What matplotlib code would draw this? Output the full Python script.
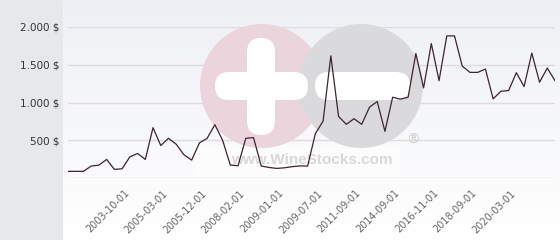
import numpy as np
import matplotlib
matplotlib.use("Agg")
import matplotlib.pyplot as plt
from matplotlib import transforms
from matplotlib.patches import Circle, FancyBboxPatch, Rectangle

prices = [88, 88, 88, 158, 171, 246, 114, 122, 280, 325,
          246, 667, 430, 526, 447, 307, 237, 465, 526, 706,
          500, 171, 162, 526, 535, 158, 140, 127, 135, 150,
          160, 158, 588, 754, 1618, 816, 711, 785, 711, 938,
          1013, 618, 1070, 1044, 1070, 1649, 1193, 1781, 1289, 1882,
          1882, 1482, 1399, 1399, 1443, 1048, 1149, 1158, 1395, 1211,
          1654, 1268, 1456, 1289]
tick_labels = ["2003-10-01", "2005-03-01", "2005-12-01", "2008-02-01",
               "2009-01-01", "2009-07-01", "2011-09-01", "2014-09-01",
               "2016-11-01", "2018-09-01", "2020-03-01"]
y_ticks = [500, 1000, 1500, 2000]

W, H = 560, 240
fig = plt.figure(figsize=(W / 100, H / 100), dpi=100)
fig.patch.set_facecolor("white")

# background axes (full figure, pixel coords)
bg = fig.add_axes([0, 0, 1, 1], zorder=0)
bg.set_xlim(0, W)
bg.set_ylim(H, 0)
bg.axis("off")
grad = np.linspace(0, 1, 100).reshape(-1, 1)
top = np.array([0.937, 0.941, 0.961])
bot = np.array([1.0, 1.0, 1.0])
img = top[None, None, :] * (1 - grad[:, :, None]) + bot[None, None, :] * grad[:, :, None]
bg.imshow(img, extent=[63, W, H, 0], aspect="auto", interpolation="bilinear")
bg.add_patch(Rectangle((0, 0), 63, H, facecolor="#e6e9ec", edgecolor="none"))

ax = fig.add_axes([68 / W, (H - 178) / H, (555 - 68) / W, (178 - 27) / H], zorder=1)
ax.set_facecolor("none")
x = np.arange(len(prices))
ax.set_xlim(0, len(prices) - 1)
ax.set_ylim(0, 2000)

ax.set_yticks([0] + y_ticks)
ax.set_yticklabels([""] + [f"{v:,.0f} $".replace(",", ".") for v in y_ticks])
ax.grid(axis="y", color="#dcdcdc", linewidth=1.0)
ax.set_axisbelow(True)
tick_pos = list(range(8, 8 + 5 * len(tick_labels), 5))
ax.set_xticks(tick_pos)
ax.set_xticklabels(tick_labels, rotation=45, ha="right", va="top",
                   rotation_mode="anchor", fontsize=7, color="#666666")
ax.tick_params(axis="x", length=0, pad=8)
ax.tick_params(axis="y", length=0, pad=6, labelsize=7.5, labelcolor="#333333")
shift = transforms.ScaledTranslation(-6 / 100, 1 / 100, fig.dpi_scale_trans)
for lbl in ax.get_xticklabels():
    lbl.set_transform(lbl.get_transform() + shift)
for s in ax.spines.values():
    s.set_visible(False)

# watermark in pixel coordinates
pix = transforms.Affine2D().scale(1 / W, -1 / H).translate(0, 1) + fig.transFigure
def add(p, z):
    p.set_transform(pix)
    p.set_clip_on(False)
    p.set_zorder(z)
    ax.add_artist(p)

add(Rectangle((195, 145), 205, 31, facecolor="white", edgecolor="none", alpha=0.6), 1.0)
add(Circle((262, 86), 62, facecolor="#ebd5dd", edgecolor="none"), 1.1)
add(Circle((361, 86), 62, facecolor="#dadadc", edgecolor="none"), 1.2)
add(FancyBboxPatch((247, 38), 28, 97, boxstyle="round,pad=0,rounding_size=14",
                   facecolor="white", edgecolor="none"), 1.3)
add(FancyBboxPatch((215, 72), 93, 28, boxstyle="round,pad=0,rounding_size=14",
                   facecolor="white", edgecolor="none"), 1.3)
add(FancyBboxPatch((315, 72), 95, 28, boxstyle="round,pad=0,rounding_size=14",
                   facecolor="white", edgecolor="none"), 1.3)
ax.text(312, 160, "www.WineStocks.com", fontsize=11, fontweight="bold",
        family="Liberation Sans", color="#d8d8d8", ha="center", va="center",
        transform=pix, zorder=1.4)
ax.text(413, 140, "®", fontsize=10, color="#cfcfcf", ha="center",
        va="center", transform=pix, zorder=1.4)

ax.plot(x, prices, color="#3b2433", linewidth=0.9, zorder=3)

fig.savefig("out.png", dpi=100)
